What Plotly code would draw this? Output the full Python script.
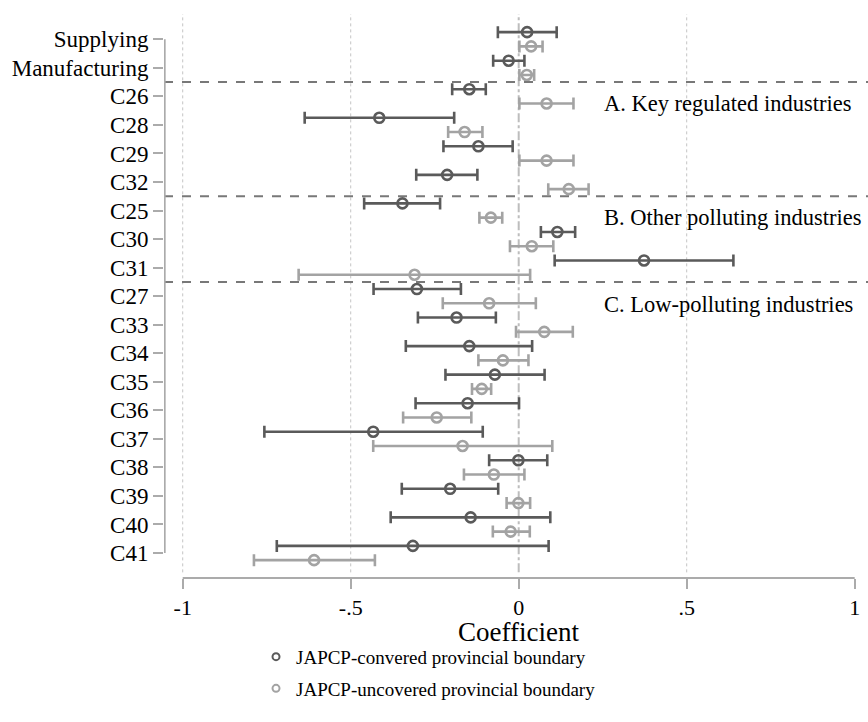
import plotly.graph_objects as go

categories = ["Supplying", "Manufacturing", "C26", "C28", "C29", "C32", "C25", "C30", "C31",
              "C27", "C33", "C34", "C35", "C36", "C37", "C38", "C39", "C40", "C41"]

# JAPCP-covered (dark)
cov_coef = [0.025, -0.030, -0.147, -0.415, -0.120, -0.213, -0.346, 0.115, 0.373,
            -0.303, -0.185, -0.147, -0.071, -0.152, -0.433, -0.001, -0.204, -0.143, -0.315]
cov_lo = [-0.062, -0.076, -0.198, -0.637, -0.224, -0.305, -0.460, 0.066, 0.107,
          -0.432, -0.300, -0.336, -0.218, -0.307, -0.757, -0.088, -0.348, -0.381, -0.720]
cov_hi = [0.113, 0.017, -0.098, -0.192, -0.018, -0.123, -0.234, 0.168, 0.639,
          -0.172, -0.068, 0.040, 0.077, 0.001, -0.107, 0.085, -0.061, 0.094, 0.089]

# JAPCP-uncovered (light)
unc_coef = [0.037, 0.024, 0.083, -0.161, 0.083, 0.149, -0.083, 0.039, -0.310,
            -0.088, 0.076, -0.047, -0.110, -0.244, -0.167, -0.074, -0.001, -0.024, -0.609]
unc_lo = [0.002, 0.002, 0.002, -0.210, 0.002, 0.088, -0.117, -0.026, -0.655,
          -0.226, -0.008, -0.120, -0.139, -0.344, -0.433, -0.163, -0.036, -0.077, -0.788]
unc_hi = [0.071, 0.046, 0.163, -0.108, 0.163, 0.208, -0.049, 0.103, 0.034,
          0.051, 0.161, 0.029, -0.082, -0.141, 0.100, 0.017, 0.034, 0.033, -0.428]

series_names = ["JAPCP-convered provincial boundary", "JAPCP-uncovered provincial boundary"]
group_labels = ["A. Key regulated industries", "B. Other polluting industries", "C. Low-polluting industries"]
group_label_pos = [2.25, 6.25, 9.3]
separators = [1.5, 5.5, 8.5]
xtick_vals = [-1, -0.5, 0, 0.5, 1]
xtick_text = ["-1", "-.5", "0", ".5", "1"]
grid_vals = [-1, -0.5, 0.5]
x_title = "Coefficient"

DARK = "#5a5a5a"
LIGHT = "#a3a3a3"
FONT = "Liberation Serif"
XMIN, XMAX = -1.0557, 1.0396

idx = list(range(len(categories)))

fig = go.Figure()

def add_series(coef, lo, hi, offset, color, name):
    fig.add_trace(go.Scatter(
        x=coef, y=[i + offset for i in idx], mode="markers",
        marker=dict(symbol="circle-open", size=10, color=color, line=dict(width=2.6, color=color)),
        error_x=dict(type="data", symmetric=False,
                     array=[h - c for h, c in zip(hi, coef)],
                     arrayminus=[c - l for c, l in zip(coef, lo)],
                     color=color, thickness=2.6, width=6),
        showlegend=False, hoverinfo="skip"))
    fig.add_trace(go.Scatter(
        x=[None], y=[None], mode="markers", name=name, legendgroup=name,
        marker=dict(symbol="circle-open", size=7, color=color, line=dict(width=2, color=color)),
        showlegend=True))

add_series(cov_coef, cov_lo, cov_hi, -0.25, DARK, series_names[0])
add_series(unc_coef, unc_lo, unc_hi, 0.25, LIGHT, series_names[1])

shapes = []
for g in grid_vals:
    shapes.append(dict(type="line", xref="x", yref="paper", x0=g, x1=g, y0=0.01, y1=1,
                       line=dict(color="#c4c4c4", width=1, dash="dot"), layer="below"))
shapes.append(dict(type="line", xref="x", yref="paper", x0=0, x1=0, y0=0.01, y1=1,
                   line=dict(color="#bdbdbd", width=2, dash="dashdot"), layer="below"))
for s in separators:
    shapes.append(dict(type="line", xref="paper", yref="y", x0=0, x1=1, y0=s, y1=s,
                       line=dict(color="#787878", width=2, dash="dash")))
# axis lines (span only the scale range, Stata-style)
shapes.append(dict(type="line", xref="x", yref="y", x0=XMIN + 0.002, x1=XMIN + 0.002,
                   y0=0, y1=len(categories) - 1,
                   line=dict(color="#ababab", width=2)))
shapes.append(dict(type="line", xref="x", yref="paper", x0=-1, x1=1, y0=0, y1=0,
                   line=dict(color="#ababab", width=2)))

annotations = [dict(x=0.249, y=yy, xref="x", yref="y", text=t, showarrow=False,
                    xanchor="left", yanchor="middle", font=dict(family=FONT, size=22.5, color="black"))
               for t, yy in zip(group_labels, group_label_pos)]
annotations.append(dict(x=0, y=-0.0965, xref="x", yref="paper", text=x_title, showarrow=False,
                        xanchor="center", yanchor="middle",
                        font=dict(family=FONT, size=27, color="black")))

fig.update_layout(
    width=868, height=722,
    margin=dict(l=164, r=0, t=14, b=144),
    plot_bgcolor="white", paper_bgcolor="white",
    font=dict(family=FONT, size=23, color="black"),
    shapes=shapes, annotations=annotations,
    xaxis=dict(range=[XMIN, XMAX], tickvals=xtick_vals, ticktext=xtick_text,
               showgrid=False, zeroline=False, showline=False,
               ticks="outside", ticklen=10, tickwidth=2, tickcolor="#ababab",
               tickfont=dict(family=FONT, size=22, color="black")),
    yaxis=dict(range=[18.875, -0.886], tickvals=idx, ticktext=categories,
               showgrid=False, zeroline=False, showline=False,
               ticks="outside", ticklen=10, tickwidth=2, tickcolor="#ababab",
               tickfont=dict(family=FONT, size=23, color="black")),
    legend=dict(x=0.1307, y=-0.106, xanchor="left", yanchor="top", orientation="v",
                font=dict(family=FONT, size=19, color="black"), tracegroupgap=4,
                bgcolor="rgba(0,0,0,0)"),
)

fig.write_html("out.html")
